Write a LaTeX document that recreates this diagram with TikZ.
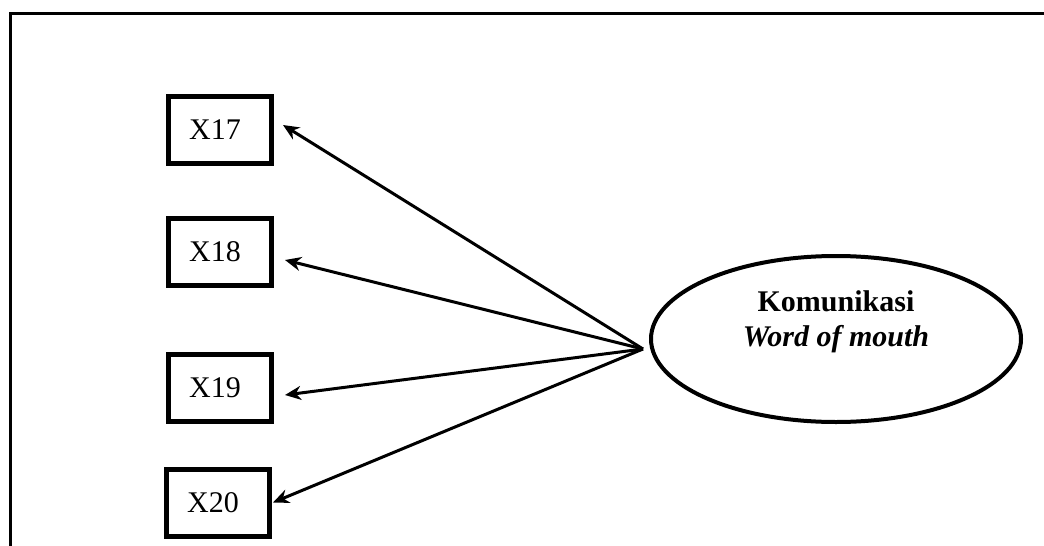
\documentclass[tikz,border=0pt]{standalone}
\usepackage{fontspec}
\setmainfont{Liberation Serif}
\usetikzlibrary{shapes.geometric,arrows.meta}
\begin{document}
\begin{tikzpicture}[x=1pt,y=-1pt,
  indicator/.style={draw,line width=5pt,rectangle,minimum width=103pt,minimum height=67pt,inner sep=0pt,
    font=\fontsize{30}{36}\selectfont,execute at end node={\hspace*{10pt}}},
  latent/.style={draw,line width=4pt,ellipse,minimum width=370pt,minimum height=166pt,inner sep=0pt},
  loading/.style={line width=3pt,-{Stealth[length=16pt,width=14pt]}}]
  \useasboundingbox (0,0) rectangle (1044,546);
  % open frame around the model
  \draw[line width=3.5pt] (10.3,546) -- (10.3,13.5) -- (1044,13.5);

  % indicators
  \node[indicator] (x17) at (220,130) {X17};
  \node[indicator] (x18) at (220,252) {X18};
  \node[indicator] (x19) at (220,387.5) {X19};
  \node[indicator] (x20) at (218,502.5) {X20};

  % latent construct
  \node[latent] (wom) at (836,339) {};
  \node[align=center,font=\fontsize{30}{35}\selectfont] (womtext) at ([yshift=17pt]wom.center)
    {\textbf{Komunikasi}\\\textbf{\textit{Word of mouth}}};

  % loadings
  \coordinate (src) at (643,349);
  \draw[loading] (src) -- ([xshift=9pt,yshift=5pt]x17.east);
  \draw[loading] (src) -- ([xshift=11pt,yshift=-8pt]x18.east);
  \draw[loading] (src) -- ([xshift=11pt,yshift=-7.5pt]x19.east);
  \draw[loading] (src) -- ([xshift=1pt]x20.east);
\end{tikzpicture}
\end{document}
